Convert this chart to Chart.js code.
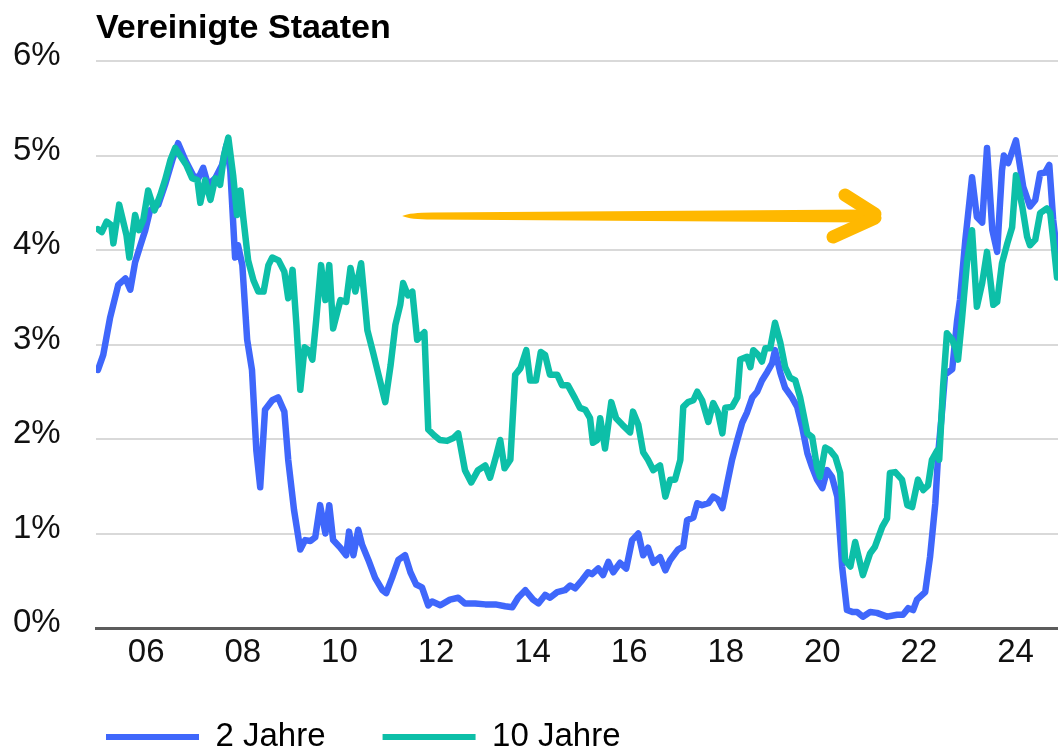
<!DOCTYPE html>
<html>
<head>
<meta charset="utf-8">
<script src="https://cdn.jsdelivr.net/npm/chart.js@4.4.1/dist/chart.umd.min.js"></script>
<style>
  html, body { margin: 0; padding: 0; background: #fff; }
  canvas { display: block; }
</style>
</head>
<body>
<canvas id="yieldChart" width="1058" height="754"></canvas>
<script>
const chartTitle = 'Vereinigte Staaten';
const seriesNames = ['2 Jahre', '10 Jahre'];
const seriesColors = ['#3f67fb', '#0dbfa8'];

// x axis runs in decimal years
const xMin = 2004.96;
const xMax = 2024.88;
const tickYears = [2006, 2008, 2010, 2012, 2014, 2016, 2018, 2020, 2022, 2024];

// 2-year yield (%)
const twoYearDates = [
  2005.00, 2005.11, 2005.25, 2005.42, 2005.57, 2005.67, 2005.77, 2005.88, 2005.98, 2006.08,
  2006.25, 2006.39, 2006.54, 2006.66, 2006.81, 2006.97, 2007.08, 2007.18, 2007.28, 2007.43,
  2007.57, 2007.66, 2007.74, 2007.84, 2007.90, 2007.99, 2008.09, 2008.19, 2008.28, 2008.36,
  2008.46, 2008.61, 2008.73, 2008.86, 2008.94, 2009.06, 2009.19, 2009.29, 2009.40, 2009.50,
  2009.60, 2009.71, 2009.79, 2009.87, 2010.02, 2010.14, 2010.20, 2010.29, 2010.39, 2010.47,
  2010.60, 2010.74, 2010.89, 2010.97, 2011.09, 2011.22, 2011.36, 2011.47, 2011.59, 2011.71,
  2011.84, 2011.92, 2012.09, 2012.29, 2012.46, 2012.60, 2012.81, 2013.02, 2013.23, 2013.43,
  2013.58, 2013.70, 2013.85, 2014.01, 2014.12, 2014.26, 2014.36, 2014.51, 2014.67, 2014.78,
  2014.88, 2015.03, 2015.15, 2015.23, 2015.36, 2015.46, 2015.57, 2015.67, 2015.81, 2015.94,
  2016.06, 2016.19, 2016.29, 2016.39, 2016.50, 2016.64, 2016.75, 2016.85, 2017.01, 2017.12,
  2017.20, 2017.33, 2017.41, 2017.51, 2017.64, 2017.74, 2017.84, 2017.93, 2018.03, 2018.13,
  2018.24, 2018.34, 2018.44, 2018.55, 2018.65, 2018.75, 2018.86, 2018.96, 2019.02, 2019.13,
  2019.23, 2019.37, 2019.48, 2019.58, 2019.69, 2019.79, 2019.89, 2020.00, 2020.10, 2020.20,
  2020.31, 2020.41, 2020.51, 2020.62, 2020.72, 2020.84, 2020.99, 2021.13, 2021.34, 2021.55,
  2021.67, 2021.78, 2021.88, 2021.96, 2022.13, 2022.23, 2022.34, 2022.40, 2022.48, 2022.54,
  2022.69, 2022.79, 2022.85, 2022.96, 2023.10, 2023.20, 2023.31, 2023.41, 2023.52, 2023.62,
  2023.72, 2023.76, 2023.85, 2024.01, 2024.16, 2024.30, 2024.41, 2024.51, 2024.61, 2024.70,
  2024.78, 2024.86
];
const twoYearRates = [
  2.73, 2.89, 3.28, 3.63, 3.70, 3.58, 3.87, 4.05, 4.21, 4.42,
  4.48, 4.69, 4.95, 5.13, 4.95, 4.79, 4.76, 4.87, 4.69, 4.76,
  4.90, 5.11, 4.85, 3.92, 4.05, 3.84, 3.05, 2.73, 1.88, 1.49,
  2.31, 2.41, 2.44, 2.29, 1.78, 1.25, 0.83, 0.93, 0.92, 0.96,
  1.30, 1.00, 1.30, 0.93, 0.85, 0.77, 1.02, 0.77, 1.04, 0.88,
  0.72, 0.53, 0.40, 0.37, 0.53, 0.72, 0.77, 0.59, 0.46, 0.43,
  0.24, 0.28, 0.24, 0.30, 0.32, 0.26, 0.26, 0.25, 0.25, 0.23,
  0.22, 0.32, 0.40, 0.30, 0.26, 0.35, 0.32, 0.38, 0.40, 0.45,
  0.42, 0.51, 0.59, 0.57, 0.63, 0.56, 0.70, 0.59, 0.69, 0.63,
  0.93, 1.00, 0.77, 0.85, 0.69, 0.75, 0.61, 0.72, 0.83, 0.86,
  1.14, 1.17, 1.32, 1.30, 1.32, 1.39, 1.36, 1.27, 1.53, 1.78,
  1.99, 2.17, 2.28, 2.44, 2.50, 2.62, 2.71, 2.80, 2.94, 2.70,
  2.54, 2.44, 2.34, 2.13, 1.85, 1.70, 1.57, 1.48, 1.67, 1.60,
  1.39, 0.65, 0.19, 0.17, 0.17, 0.12, 0.17, 0.16, 0.12, 0.14,
  0.14, 0.21, 0.19, 0.30, 0.38, 0.75, 1.32, 1.85, 2.30, 2.68,
  2.74, 3.25, 3.47, 4.10, 4.77, 4.35, 4.29, 5.08, 4.21, 3.98,
  4.84, 5.00, 4.92, 5.16, 4.67, 4.46, 4.53, 4.81, 4.82, 4.90,
  4.32, 3.97
];

// 10-year yield (%)
const tenYearDates = [
  2005.00, 2005.08, 2005.18, 2005.28, 2005.32, 2005.44, 2005.59, 2005.65, 2005.77, 2005.85,
  2005.94, 2006.04, 2006.17, 2006.29, 2006.39, 2006.50, 2006.60, 2006.70, 2006.83, 2006.95,
  2007.06, 2007.12, 2007.22, 2007.33, 2007.43, 2007.53, 2007.61, 2007.70, 2007.80, 2007.88,
  2007.95, 2008.01, 2008.11, 2008.22, 2008.32, 2008.43, 2008.53, 2008.61, 2008.74, 2008.86,
  2008.94, 2009.03, 2009.11, 2009.19, 2009.28, 2009.36, 2009.44, 2009.52, 2009.62, 2009.71,
  2009.79, 2009.87, 2010.02, 2010.14, 2010.23, 2010.33, 2010.45, 2010.58, 2010.70, 2010.81,
  2010.95, 2011.06, 2011.16, 2011.26, 2011.32, 2011.42, 2011.51, 2011.61, 2011.70, 2011.76,
  2011.84, 2011.96, 2012.08, 2012.23, 2012.36, 2012.46, 2012.60, 2012.73, 2012.87, 2013.02,
  2013.12, 2013.25, 2013.33, 2013.42, 2013.54, 2013.64, 2013.75, 2013.87, 2013.95, 2014.07,
  2014.17, 2014.26, 2014.36, 2014.51, 2014.61, 2014.73, 2014.88, 2014.98, 2015.09, 2015.19,
  2015.25, 2015.34, 2015.40, 2015.50, 2015.63, 2015.73, 2015.86, 2016.02, 2016.08, 2016.19,
  2016.29, 2016.39, 2016.50, 2016.64, 2016.75, 2016.85, 2016.95, 2017.06, 2017.12, 2017.22,
  2017.33, 2017.41, 2017.51, 2017.64, 2017.74, 2017.84, 2017.93, 2017.99, 2018.13, 2018.24,
  2018.30, 2018.44, 2018.51, 2018.57, 2018.67, 2018.75, 2018.82, 2018.92, 2019.02, 2019.13,
  2019.23, 2019.33, 2019.44, 2019.54, 2019.69, 2019.79, 2019.89, 2019.95, 2020.06, 2020.16,
  2020.27, 2020.37, 2020.41, 2020.47, 2020.58, 2020.68, 2020.84, 2020.99, 2021.09, 2021.24,
  2021.34, 2021.40, 2021.51, 2021.65, 2021.76, 2021.86, 2021.98, 2022.09, 2022.19, 2022.27,
  2022.38, 2022.42, 2022.50, 2022.58, 2022.69, 2022.77, 2022.81, 2022.89, 2023.00, 2023.10,
  2023.20, 2023.31, 2023.41, 2023.54, 2023.62, 2023.72, 2023.83, 2023.93, 2024.01, 2024.14,
  2024.24, 2024.30, 2024.41, 2024.51, 2024.65, 2024.72, 2024.78, 2024.86
];
const tenYearRates = [
  4.22, 4.19, 4.30, 4.26, 4.07, 4.48, 4.16, 3.92, 4.37, 4.21,
  4.32, 4.63, 4.42, 4.58, 4.74, 4.95, 5.08, 5.00, 4.90, 4.76,
  4.74, 4.50, 4.74, 4.53, 4.76, 4.69, 5.00, 5.19, 4.79, 4.37,
  4.63, 4.34, 3.89, 3.68, 3.56, 3.56, 3.84, 3.92, 3.89, 3.77,
  3.49, 3.79, 3.21, 2.52, 2.97, 2.94, 2.84, 3.26, 3.84, 3.47,
  3.84, 3.17, 3.47, 3.45, 3.81, 3.56, 3.86, 3.15, 2.91, 2.68,
  2.39, 2.78, 3.21, 3.42, 3.65, 3.52, 3.56, 3.05, 3.10, 3.13,
  2.10, 2.04, 1.99, 1.98, 2.01, 2.06, 1.67, 1.54, 1.67, 1.72,
  1.59, 1.83, 1.99, 1.69, 1.78, 2.68, 2.75, 2.94, 2.62, 2.62,
  2.92, 2.89, 2.68, 2.68, 2.57, 2.57, 2.43, 2.33, 2.31, 2.22,
  1.96, 1.99, 2.22, 1.90, 2.39, 2.22, 2.15, 2.07, 2.29, 2.15,
  1.86, 1.78, 1.67, 1.72, 1.39, 1.57, 1.57, 1.78, 2.34, 2.39,
  2.41, 2.50, 2.41, 2.18, 2.38, 2.28, 2.06, 2.33, 2.34, 2.44,
  2.84, 2.87, 2.76, 2.94, 2.89, 2.82, 2.96, 2.96, 3.23, 3.02,
  2.76, 2.65, 2.62, 2.44, 2.06, 2.02, 1.70, 1.60, 1.91, 1.88,
  1.81, 1.64, 1.35, 0.72, 0.65, 0.91, 0.56, 0.79, 0.86, 1.07,
  1.16, 1.64, 1.65, 1.57, 1.30, 1.28, 1.57, 1.46, 1.51, 1.78,
  1.88, 1.78, 2.55, 3.12, 3.05, 2.94, 2.84, 3.26, 3.89, 4.21,
  3.40, 3.65, 3.98, 3.42, 3.45, 3.86, 4.07, 4.24, 4.79, 4.46,
  4.14, 4.05, 4.11, 4.39, 4.44, 4.39, 4.11, 3.71
];

// hand-drawn orange arrow, [year, percent]
const arrowStart = [2011.30, 4.36];
const arrowEnd = [2021.09, 4.36];
const arrowColor = '#ffb800';

const toPoints = (dates, rates) => dates.map((d, i) => ({ x: d, y: rates[i] }));

Chart.defaults.font.family = '"Liberation Sans", Arial, sans-serif';
Chart.defaults.color = '#111';

const arrowPlugin = {
    id: 'arrow',
    afterDatasetsDraw(chart) {
        const { ctx, scales: { x, y } } = chart;
        const x0 = x.getPixelForValue(arrowStart[0]);
        const y0 = y.getPixelForValue(arrowStart[1]);
        const x1 = x.getPixelForValue(arrowEnd[0]);
        const y1 = y.getPixelForValue(arrowEnd[1]);

        ctx.save();
        ctx.fillStyle = arrowColor;
        ctx.strokeStyle = arrowColor;

        // shaft: thin tail getting thicker towards the head
        ctx.beginPath();
        ctx.moveTo(x0, y0);
        ctx.quadraticCurveTo(x0 + 8, y0 - 3.5, x0 + 30, y0 - 3.5);
        ctx.lineTo(x1 - 10, y1 - 6.5);
        ctx.lineTo(x1 - 10, y1 + 6.5);
        ctx.lineTo(x0 + 30, y0 + 3.5);
        ctx.quadraticCurveTo(x0 + 8, y0 + 3.5, x0, y0);
        ctx.fill();

        // head
        ctx.lineCap = 'round';
        ctx.lineJoin = 'round';
        ctx.lineWidth = 13;
        ctx.beginPath();
        ctx.moveTo(x1 - 30, y1 - 21);
        ctx.lineTo(x1, y1 - 2);
        ctx.moveTo(x1 - 42, y1 + 21);
        ctx.lineTo(x1, y1 + 2);
        ctx.stroke();
        ctx.restore();
    }
};

const ctx = document.getElementById('yieldChart').getContext('2d');
new Chart(ctx, {
    type: 'line',
    data: {
        datasets: [
            {
                label: seriesNames[0],
                data: toPoints(twoYearDates, twoYearRates),
                borderColor: seriesColors[0],
                backgroundColor: seriesColors[0],
                order: 1
            },
            {
                label: seriesNames[1],
                data: toPoints(tenYearDates, tenYearRates),
                borderColor: seriesColors[1],
                backgroundColor: seriesColors[1],
                order: 0   // 10y line sits on top
            }
        ]
    },
    options: {
        responsive: false,
        animation: false,
        devicePixelRatio: 1,
        layout: { padding: { left: 49, right: 0, top: 0, bottom: -9.5 } },
        elements: {
            point: { radius: 0 },
            line: { borderWidth: 6.5, tension: 0, borderJoinStyle: 'round', borderCapStyle: 'round' }
        },
        scales: {
            x: {
                type: 'linear',
                min: xMin,
                max: xMax,
                afterBuildTicks: scale => { scale.ticks = tickYears.map(v => ({ value: v })); },
                afterFit: scale => { scale.height = 35.5; },
                ticks: {
                    autoSkip: false,
                    maxRotation: 0,
                    padding: 5,
                    color: '#111',
                    font: { size: 33 },
                    callback: v => String(v).slice(2)
                },
                grid: { display: false, drawTicks: false },
                border: { display: true, color: '#5c5c5c', width: 3 }
            },
            y: {
                min: 0,
                max: 6,
                afterFit: scale => { scale.width = 47; },
                ticks: {
                    stepSize: 1,
                    // mirrored so the labels are not clipped to the narrow axis box
                    mirror: true,
                    padding: -83,
                    labelOffset: -5,
                    color: '#111',
                    font: { size: 33 },
                    callback: v => v + '%'
                },
                grid: { color: '#d9d9d9', lineWidth: 2, drawTicks: false },
                border: { display: false }
            }
        },
        plugins: {
            tooltip: { enabled: false },
            title: {
                display: true,
                text: chartTitle,
                align: 'start',
                fullSize: false,
                color: '#000',
                font: { size: 34, weight: 'bold' },
                padding: { top: 8, bottom: 12.2 }
            },
            legend: {
                position: 'bottom',
                align: 'start',
                labels: {
                    boxWidth: 93,
                    boxHeight: 6,
                    padding: 57,
                    color: '#111',
                    font: { size: 33 },
                    generateLabels: chart => chart.data.datasets.map((ds, i) => ({
                        text: ds.label,
                        fillStyle: ds.borderColor,
                        strokeStyle: ds.borderColor,
                        lineWidth: 0,
                        hidden: false,
                        datasetIndex: i
                    }))
                }
            }
        }
    },
    plugins: [arrowPlugin]
});
</script>
</body>
</html>
